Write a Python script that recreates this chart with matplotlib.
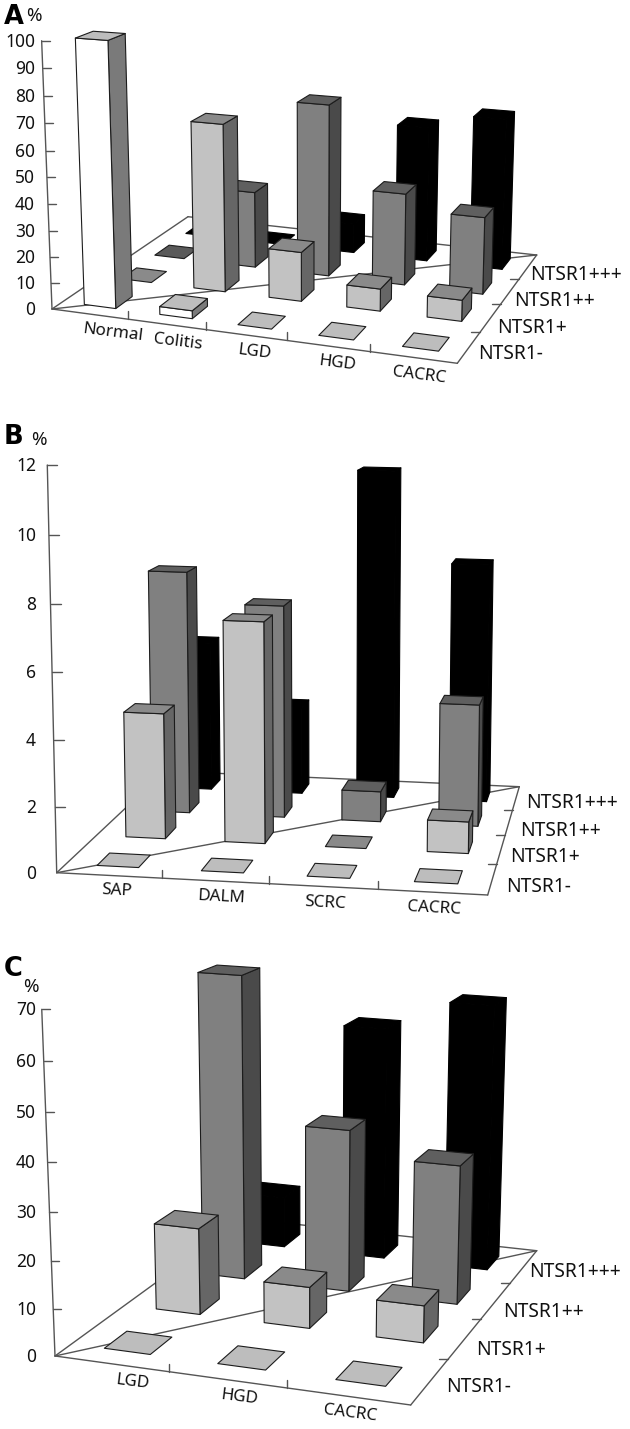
import numpy as np
import matplotlib
matplotlib.use("Agg")
import matplotlib.pyplot as plt
from matplotlib.patches import Polygon

# ---------- data ----------
series = ["NTSR1-", "NTSR1+", "NTSR1++", "NTSR1+++"]

A_categories = ["Normal", "Colitis", "LGD", "HGD", "CACRC"]
A_neg = [100, 3, 0, 0, 0]
A_p1 = [0, 65, 19, 8.5, 8]
A_p2 = [0, 30.5, 68, 36, 30]
A_p3 = [0, 0, 12, 54.5, 60.5]
A_ticks = [0, 10, 20, 30, 40, 50, 60, 70, 80, 90, 100]

B_categories = ["SAP", "DALM", "SCRC", "CACRC"]
B_neg = [0, 0, 0, 0]
B_p1 = [4.0, 7.0, 0, 1.0]
B_p2 = [8.0, 7.0, 1.0, 4.0]
B_p3 = [5.1, 3.0, 11.15, 8.1]
B_ticks = [0, 2, 4, 6, 8, 10, 12]

C_categories = ["LGD", "HGD", "CACRC"]
C_neg = [0, 0, 0]
C_p1 = [19, 9, 8]
C_p2 = [68.5, 36.5, 31]
C_p3 = [12, 54, 61]
C_ticks = [0, 10, 20, 30, 40, 50, 60, 70]

# ---------- styles: front, top, side ----------
STYLE = [("#ffffff", "#bdbdbd", "#7a7a7a"),
         ("#c2c2c2", "#8a8a8a", "#666666"),
         ("#808080", "#5f5f5f", "#4a4a4a"),
         ("#000000", "#000000", "#000000")]
FLAT = ["#bdbdbd", "#8a8a8a", "#5a5a5a", "#000000"]
FONT = "Noto Sans"
EDGE = "#1c1c1c"
AXIS = "#555555"

fig = plt.figure(figsize=(6.30, 14.29), dpi=100)
ax = fig.add_axes([0, 0, 1, 1])
ax.set_xlim(0, 630)
ax.set_ylim(1429, 0)
ax.axis("off")


def homography(O, R, B, D):
    src = [(0, 0), (1, 0), (1, 1), (0, 1)]
    dst = [O, R, B, D]
    M, b = [], []
    for (x, y), (u, v) in zip(src, dst):
        M.append([x, y, 1, 0, 0, 0, -u * x, -u * y]); b.append(u)
        M.append([0, 0, 0, x, y, 1, -v * x, -v * y]); b.append(v)
    h = np.linalg.solve(np.array(M, float), np.array(b, float))
    return np.append(h, 1).reshape(3, 3)


def make_proj(O, R, B, D, top, V, vmax):
    H = homography(O, R, B, D)
    wv = (top[1] - O[1]) / (V[1] - top[1])
    pz = wv * np.array([V[0], V[1], 1.0])

    def proj(x, y, val=0.0):
        p = H @ np.array([x, y, 1.0]) + pz * (val / vmax)
        return p[0] / p[2], p[1] / p[2]
    return proj


def line(p, q, color=AXIS, lw=1.0, z=1):
    ax.plot([p[0], q[0]], [p[1], q[1]], color=color, lw=lw, zorder=z,
            solid_capstyle="round")


def poly(pts, fc, z):
    ec = "#000000" if fc == "#000000" else EDGE
    ax.add_patch(Polygon(pts, closed=True, facecolor=fc, edgecolor=ec,
                         lw=0.8, joinstyle="round", zorder=z))


def panel(cfg, cats, rows, ticks):
    proj = make_proj(cfg["O"], cfg["R"], cfg["B"], cfg["D"], cfg["top"],
                     cfg["V"], ticks[-1])
    n, m = len(cats), len(rows)
    line(proj(0, 0), proj(1, 0))
    line(proj(1, 0), proj(1, 1))
    line(proj(0, 0), proj(0, 1))
    line(proj(0, 1), proj(1, 1))
    line(proj(0, 0), proj(1, 1))
    line(proj(0, 0), proj(0, 0, ticks[-1]))
    for t in ticks[1:]:
        p = proj(0, 0, t)
        line(p, (p[0] + cfg["tick"], p[1]))
    for t in ticks:
        p = proj(0, 0, t)
        ax.text(cfg["num_x"], p[1] + 1, str(t), ha="right", va="center",
                fontsize=12.5, family=FONT, color="#111111")
    for i in range(1, n):
        p = proj(i / n, 0)
        line(p, (p[0], p[1] - 8))
    for j in range(1, m):
        p = proj(1, j / m)
        line(p, (p[0] - 9, p[1]))
    fx, fy = cfg["fx"], cfg["fy"]
    for j in range(m - 1, -1, -1):
        for i in range(n):
            val = rows[j][i]
            x0, x1 = (i + .5 - fx / 2) / n, (i + .5 + fx / 2) / n
            y0, y1 = (j + .5 - fy / 2) / m, (j + .5 + fy / 2) / m
            z = 10 + (m - j) * 100 + i * 3
            top = [proj(x0, y0, val), proj(x1, y0, val), proj(x1, y1, val), proj(x0, y1, val)]
            if val <= 0:
                poly(top, FLAT[j], z)
                continue
            f, t, s = STYLE[j]
            poly([proj(x1, y0), proj(x1, y1), proj(x1, y1, val), proj(x1, y0, val)], s, z)
            poly([proj(x0, y0), proj(x1, y0), proj(x1, y0, val), proj(x0, y0, val)], f, z + 1)
            poly(top, t, z + 2)
    for lab, (x, y) in zip(cats, cfg["xlabels"]):
        ax.text(x, y, lab, ha="center", va="center", rotation=cfg["rot"],
                rotation_mode="anchor", fontsize=12.3, family=FONT, color="#111111")
    for lab, (x, y) in zip(series, cfg["ylabels"]):
        ax.text(x, y, lab, ha="left", va="center", fontsize=13.8,
                family=FONT, color="#111111")
    lt = cfg["letter"]
    ax.text(lt[0], lt[1], lt[2], ha="left", va="center", fontsize=18.5,
            family="DejaVu Sans", weight="bold", color="black")
    ax.text(cfg["pct"][0], cfg["pct"][1], "%", ha="left", va="center", fontsize=13.5,
            family=FONT, color="#111111")


panel(dict(O=(52, 309), R=(457.3, 363.3), B=(536.7, 255), D=(188, 216.7),
           top=(41.7, 40.7), V=(310, 7000), tick=8, num_x=35,
           fx=.42, fy=.45, rot=-7,
           xlabels=[(113, 333), (178, 342), (255, 352), (337, 363), (419, 375)],
           ylabels=[(478, 354), (497, 328), (514, 301), (530, 275)],
           letter=(4, 17, "A"), pct=(26, 16)),
      A_categories, [A_neg, A_p1, A_p2, A_p3], A_ticks)

panel(dict(O=(56.7, 872.7), R=(487.7, 895), B=(519.3, 786.7), D=(165, 771),
           top=(47.3, 465), V=(325, 12500), tick=10, num_x=36,
           fx=.40, fy=.42, rot=-3,
           xlabels=[(117, 891), (221, 897), (325, 903), (434, 908)],
           ylabels=[(506, 887), (510, 857), (520, 831), (526, 803)],
           letter=(4, 437, "B"), pct=(31, 440)),
      B_categories, [B_neg, B_p1, B_p2, B_p3], B_ticks)

panel(dict(O=(55, 1356), R=(410.7, 1405), B=(536.7, 1250.7), D=(244, 1218.6),
           top=(41.7, 1009.3), V=(305, 7900), tick=8, num_x=36,
           fx=.41, fy=.42, rot=-7,
           xlabels=[(133, 1382), (239, 1397), (350, 1413)],
           ylabels=[(446, 1387), (476, 1350), (503, 1312), (529, 1272)],
           letter=(4, 969, "C"), pct=(23, 987)),
      C_categories, [C_neg, C_p1, C_p2, C_p3], C_ticks)

fig.savefig("out.png", dpi=100)
